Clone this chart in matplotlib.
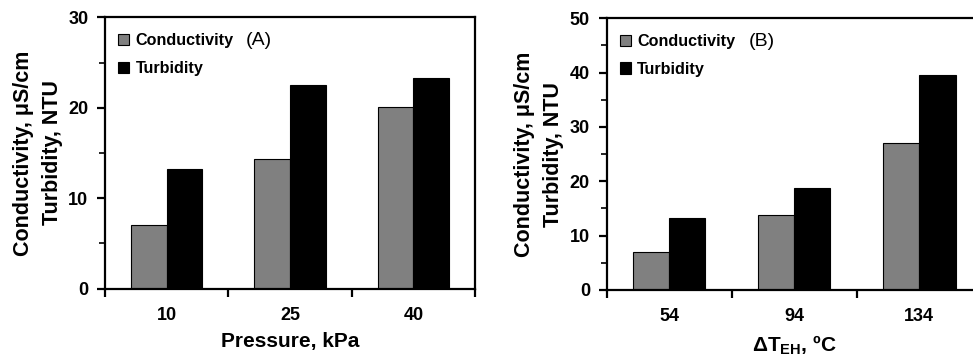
import matplotlib
matplotlib.use("Agg")
import matplotlib.pyplot as plt
import numpy as np
from matplotlib.ticker import MultipleLocator, FixedLocator, NullFormatter, FixedFormatter

plt.rcParams['font.family'] = ['Liberation Sans', 'DejaVu Sans']
plt.rcParams['font.weight'] = 'bold'
plt.rcParams['mathtext.fontset'] = 'custom'
plt.rcParams['mathtext.rm'] = 'Liberation Sans:bold'
plt.rcParams['mathtext.bf'] = 'Liberation Sans:bold'
plt.rcParams['mathtext.it'] = 'Liberation Sans:bold'

# panel A data
pressure = ['10', '25', '40']
cond_a = [7.0, 14.3, 20.1]
turb_a = [13.2, 22.5, 23.3]

# panel B data
dT = ['54', '94', '134']
cond_b = [7.0, 13.8, 27.1]
turb_b = [13.2, 18.7, 39.6]

ylabel = 'Conductivity, μS/cm\nTurbidity, NTU'

fig = plt.figure(figsize=(9.73, 3.55), dpi=100)
axA = fig.add_axes([0.1079, 0.1868, 0.3803, 0.7645])
axB = fig.add_axes([0.6235, 0.1831, 0.3855, 0.7654])


def draw(ax, cats, cond, turb, ymax, xlabel, tag):
    x = np.arange(len(cats))
    w = 0.29
    ax.bar(x - w / 2, cond, w, color='#808080', edgecolor='black', linewidth=0.8,
           label='Conductivity', zorder=2)
    ax.bar(x + w / 2, turb, w, color='black', edgecolor='black', linewidth=0.8,
           label='Turbidity', zorder=2)
    ax.set_xlim(-0.5, len(cats) - 0.5)
    ax.set_ylim(0, ymax)
    for s in ax.spines.values():
        s.set_linewidth(1.6)
    # ticks at category boundaries, labels at centres
    ax.xaxis.set_major_locator(FixedLocator(np.arange(len(cats) + 1) - 0.5))
    ax.xaxis.set_major_formatter(NullFormatter())
    ax.xaxis.set_minor_locator(FixedLocator(x))
    ax.xaxis.set_minor_formatter(FixedFormatter(cats))
    ax.tick_params(axis='x', which='major', direction='out', length=6, width=1.6)
    ax.tick_params(axis='x', which='minor', length=0, pad=13, labelsize=13)
    ax.yaxis.set_major_locator(MultipleLocator(10))
    ax.yaxis.set_minor_locator(MultipleLocator(5))
    ax.tick_params(axis='y', which='major', direction='out', length=6, width=1.6,
                   pad=6, labelsize=13)
    ax.tick_params(axis='y', which='minor', direction='out', length=4, width=1.2)
    ax.set_xlabel(xlabel, fontsize=15, fontweight='bold', labelpad=6)
    ax.set_ylabel(ylabel, fontsize=15.5, fontweight='bold', labelpad=4, linespacing=1.5)
    leg = ax.legend(loc='upper left', frameon=False, fontsize=11.6, handlelength=0.7,
                    handleheight=0.7, handletextpad=0.4, labelspacing=0.8,
                    borderaxespad=0.4, bbox_to_anchor=(0.0, 0.99))
    for h in leg.legend_handles:
        h.set_linewidth(0.8)
    ax.text(0.38, 0.915, tag, transform=ax.transAxes, fontsize=14, fontweight='normal',
            ha='left', va='center')


draw(axA, pressure, cond_a, turb_a, 30, 'Pressure, kPa', '(A)')
draw(axB, dT, cond_b, turb_b, 50, r'ΔT$_{\mathrm{EH}}$, ºC', '(B)')

fig.savefig('out.png', dpi=100)
